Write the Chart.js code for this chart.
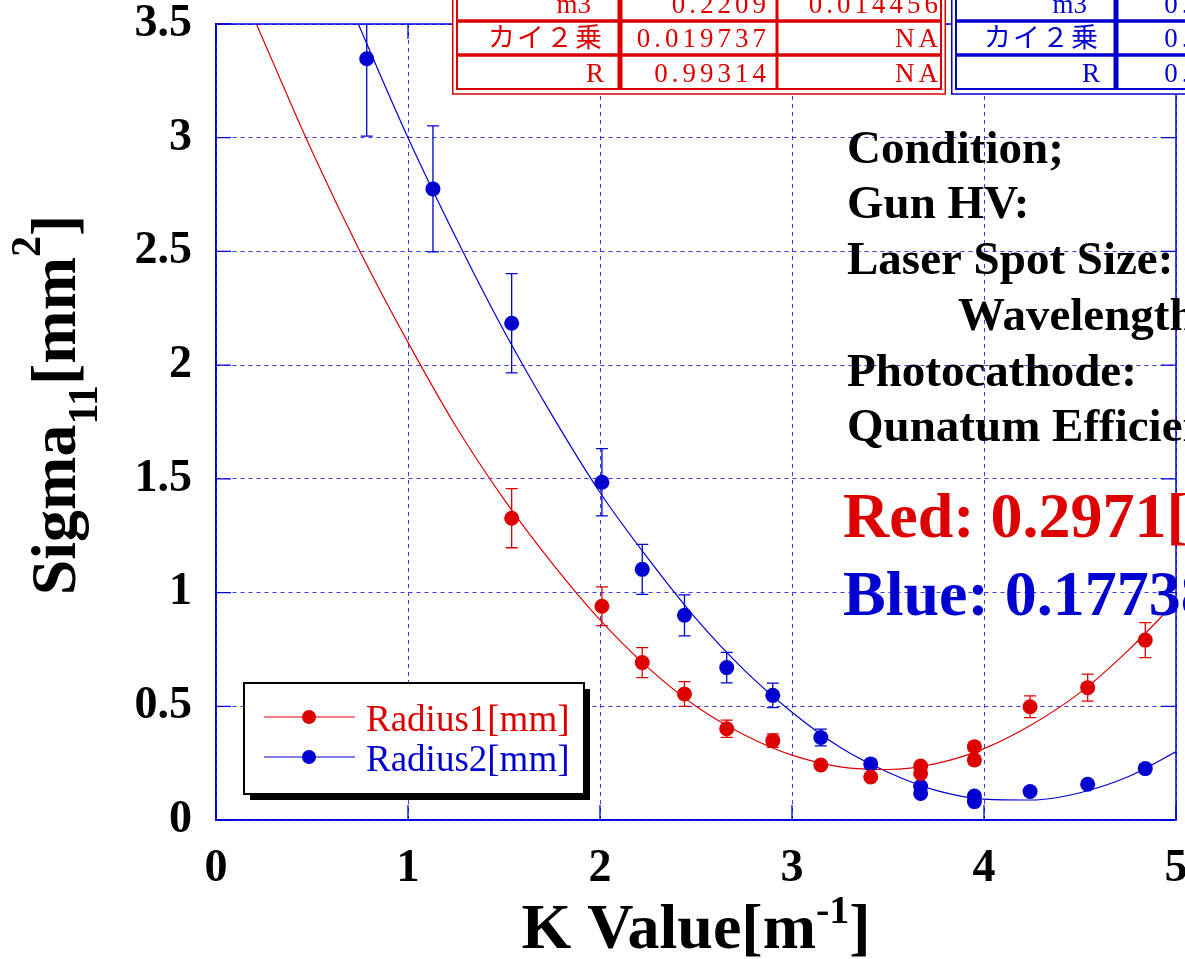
<!DOCTYPE html>
<html>
<head>
<meta charset="utf-8">
<script src="https://cdn.jsdelivr.net/npm/chart.js@4.4.1/dist/chart.umd.min.js"></script>
<style>
html, body { margin: 0; padding: 0; background: #fff; overflow: hidden; }
</style>
</head>
<body>
<canvas id="chart" width="1185" height="959"></canvas>
<script>
// measured points (K value, sigma11, error)
const kRed = [1.54, 2.01, 2.22, 2.44, 2.66, 2.90, 3.15, 3.41, 3.67, 3.67, 3.95, 3.95, 4.24, 4.54, 4.84];
const sigRed = [1.327, 0.940, 0.692, 0.554, 0.401, 0.349, 0.242, 0.189, 0.237, 0.205, 0.322, 0.264, 0.498, 0.582, 0.791];
const errRed = [0.13, 0.085, 0.066, 0.054, 0.038, 0.03, 0.015, 0.012, 0.015, 0.015, 0.02, 0.02, 0.048, 0.059, 0.077];

const kBlue = [0.785, 1.13, 1.54, 2.01, 2.22, 2.44, 2.66, 2.90, 3.15, 3.41, 3.67, 3.67, 3.95, 3.95, 4.24, 4.54, 4.84];
const sigBlue = [3.347, 2.775, 2.184, 1.485, 1.102, 0.900, 0.670, 0.548, 0.363, 0.246, 0.147, 0.117, 0.105, 0.081, 0.125, 0.157, 0.226];
const errBlue = [0.34, 0.277, 0.218, 0.148, 0.11, 0.09, 0.067, 0.054, 0.037, 0.02, 0.015, 0.015, 0.012, 0.012, 0.015, 0.015, 0.02];

// fitted curves
const fitKRed = [0.2, 0.5, 0.75, 1.0, 1.25, 1.5, 1.75, 2.0, 2.25, 2.5, 2.75, 3.0, 3.25, 3.5, 3.75, 4.0, 4.25, 4.5, 4.75, 5.0];
const fitRed = [3.52, 2.94, 2.50, 2.10, 1.73, 1.41, 1.13, 0.88, 0.67, 0.50, 0.375, 0.285, 0.234, 0.222, 0.248, 0.314, 0.42, 0.56, 0.745, 0.96];
const fitKBlue = [0.7, 1.0, 1.25, 1.5, 1.75, 2.0, 2.25, 2.5, 2.75, 3.0, 3.25, 3.5, 3.75, 4.0, 4.25, 4.5, 4.75, 5.0];
const fitBlue = [3.58, 3.00, 2.56, 2.15, 1.78, 1.44, 1.15, 0.885, 0.66, 0.474, 0.32, 0.21, 0.13, 0.092, 0.088, 0.12, 0.19, 0.30];

const seriesNames = ['Radius1[mm]', 'Radius2[mm]'];
const xTicks = [0, 1, 2, 3, 4, 5];
const yTicks = [0, 0.5, 1, 1.5, 2, 2.5, 3, 3.5];

// fit result tables
const tableLabels = ['m3', 'カイ２乗', 'R'];
const redTable = [['0.2209', '0.014456'], ['0.019737', 'NA'], ['0.99314', 'NA']];
const blueTable = [['0.08534', '0.01162'], ['0.02156', 'NA'], ['0.99127', 'NA']];

const conditionLines = ['Condition;', 'Gun HV:', 'Laser Spot Size:', 'Wavelength:', 'Photocathode:', 'Qunatum Efficiency:'];
const emittance = ['Red: 0.2971[mm mrad]', 'Blue: 0.17738[mm mrad]'];

const RED = '#dd0000';
const BLUE = '#0000d0';
const serif = "'Liberation Serif', 'Times New Roman', serif";

function pts(xs, ys) {
  return xs.map((x, i) => ({ x: x, y: ys[i] }));
}

function richText(ctx, parts, x, y, align) {
  let w = 0;
  parts.forEach(p => {
    ctx.font = 'bold ' + p[1] + 'px ' + serif;
    w += ctx.measureText(p[0]).width;
  });
  let cx = align === 'center' ? x - w / 2 : x;
  parts.forEach(p => {
    ctx.font = 'bold ' + p[1] + 'px ' + serif;
    ctx.fillText(p[0], cx, y + p[2]);
    cx += ctx.measureText(p[0]).width;
  });
}

const errorBars = {
  id: 'errorBars',
  beforeDatasetsDraw(chart) {
    const ctx = chart.ctx;
    const a = chart.chartArea;
    const xs = chart.scales.x, ys = chart.scales.y;
    ctx.save();
    ctx.beginPath();
    ctx.rect(a.left, a.top, a.right - a.left, a.bottom - a.top);
    ctx.clip();
    [[kRed, sigRed, errRed, RED], [kBlue, sigBlue, errBlue, BLUE]].forEach(s => {
      ctx.strokeStyle = s[3];
      ctx.lineWidth = 1.3;
      s[0].forEach((k, i) => {
        const px = xs.getPixelForValue(k);
        const top = ys.getPixelForValue(s[1][i] + s[2][i]);
        const bot = ys.getPixelForValue(s[1][i] - s[2][i]);
        ctx.beginPath();
        ctx.moveTo(px, top); ctx.lineTo(px, bot);
        ctx.moveTo(px - 6, top); ctx.lineTo(px + 6, top);
        ctx.moveTo(px - 6, bot); ctx.lineTo(px + 6, bot);
        ctx.stroke();
      });
    });
    ctx.restore();
  }
};

function drawTable(ctx, left, right, colX, valueRight, labelRight, rows, color) {
  ctx.save();
  ctx.fillStyle = '#fff';
  ctx.fillRect(left, -10, right - left, 105);
  ctx.strokeStyle = color;
  ctx.lineWidth = 1.5;
  ctx.strokeRect(left + 0.75, -10, right - left - 1.5, 104);
  ctx.lineWidth = 2;
  ctx.strokeRect(left + 5, -10, right - left - 10, 99);
  ctx.lineWidth = 3.5;
  ctx.beginPath();
  ctx.moveTo(left + 5, 21); ctx.lineTo(right - 5, 21);
  ctx.moveTo(left + 5, 55); ctx.lineTo(right - 5, 55);
  ctx.stroke();
  ctx.lineWidth = 5;
  ctx.beginPath();
  ctx.moveTo(colX[0], -10); ctx.lineTo(colX[0], 89);
  ctx.stroke();
  if (colX[1]) {
    ctx.lineWidth = 3;
    ctx.beginPath();
    ctx.moveTo(colX[1], -10); ctx.lineTo(colX[1], 89);
    ctx.stroke();
  }
  ctx.fillStyle = color;
  ctx.textAlign = 'right';
  ctx.textBaseline = 'alphabetic';
  const base = [13, 47, 82];
  ctx.font = '27px ' + serif + ", 'Noto Sans CJK JP'";
  tableLabels.forEach((t, i) => {
    ctx.letterSpacing = i === 1 ? '2px' : '0px';
    ctx.fillText(t, labelRight - (i === 0 ? 13 : 0), base[i]);
  });
  ctx.letterSpacing = '4px';
  ctx.font = '27px ' + serif;
  rows.forEach((r, i) => {
    ctx.fillText(r[0], valueRight[0], base[i]);
    ctx.fillText(r[1], valueRight[1], base[i]);
  });
  ctx.restore();
}

const decorations = {
  id: 'decorations',
  afterDraw(chart) {
    const ctx = chart.ctx;
    const a = chart.chartArea;
    const xs = chart.scales.x, ys = chart.scales.y;
    ctx.save();
    // frame and inner ticks
    ctx.strokeStyle = '#0000dd';
    ctx.lineWidth = 1.5;
    ctx.strokeRect(a.left, a.top, a.right - a.left, a.bottom - a.top);
    ctx.lineWidth = 1.3;
    ctx.beginPath();
    yTicks.forEach(v => {
      const py = ys.getPixelForValue(v);
      ctx.moveTo(a.left, py); ctx.lineTo(a.left + 15, py);
      ctx.moveTo(a.right, py); ctx.lineTo(a.right - 15, py);
    });
    xTicks.forEach(v => {
      const px = xs.getPixelForValue(v);
      ctx.moveTo(px, a.bottom); ctx.lineTo(px, a.bottom - 15);
      ctx.moveTo(px, a.top); ctx.lineTo(px, a.top + 15);
    });
    ctx.stroke();

    // axis titles
    ctx.fillStyle = '#000';
    ctx.textBaseline = 'alphabetic';
    ctx.textAlign = 'left';
    richText(ctx, [['K Value[m', 64, 0], ['-1', 40, -25], [']', 64, 0]], (a.left + a.right) / 2, 948, 'center');
    ctx.save();
    ctx.translate(75, 405);
    ctx.rotate(-Math.PI / 2);
    richText(ctx, [['Sigma', 64, 0], ['11', 42, 22], ['[mm', 64, 0], ['2', 42, -35], [']', 64, 0]], 0, 0, 'center');
    ctx.restore();

    // legend with drop shadow
    const lx = 244, ly = 683, lw = 340, lh = 111;
    ctx.fillStyle = '#000';
    ctx.fillRect(lx + 6, ly + 6, lw, lh);
    ctx.fillStyle = '#fff';
    ctx.fillRect(lx, ly, lw, lh);
    ctx.strokeStyle = '#000';
    ctx.lineWidth = 2;
    ctx.strokeRect(lx, ly, lw, lh);
    chart.data.datasets.slice(0, 2).forEach((ds, i) => {
      const y = 717 + i * 40;
      ctx.strokeStyle = ds.borderColor;
      ctx.lineWidth = 1.2;
      ctx.beginPath();
      ctx.moveTo(264, y); ctx.lineTo(355, y);
      ctx.stroke();
      ctx.fillStyle = ds.backgroundColor;
      ctx.beginPath();
      ctx.arc(309, y, 7, 0, Math.PI * 2);
      ctx.fill();
      ctx.font = '37px ' + serif;
      ctx.fillText(ds.label, 366, y + 14);
    });

    // fit tables
    drawTable(ctx, 452, 946, [620, 777], [770, 942], 604, redTable, RED);
    drawTable(ctx, 951, 1320, [1116, null], [1280, 1420], 1100, blueTable, BLUE);

    // condition text
    ctx.fillStyle = '#000';
    ctx.textAlign = 'left';
    ctx.font = 'bold 47px ' + serif;
    const base = [163, 218, 274, 330, 386, 441];
    conditionLines.forEach((t, i) => {
      ctx.fillText(t, i === 3 ? 958 : 847, base[i]);
    });
    ctx.font = 'bold 64px ' + serif;
    ctx.fillStyle = RED;
    ctx.fillText(emittance[0], 843, 537);
    ctx.fillStyle = BLUE;
    ctx.fillText(emittance[1], 843, 615);
    ctx.restore();
  }
};

function noPadX(s) {
  s.height = 139;
  s.paddingLeft = 0; s.paddingRight = 0;
}
function noPadY(s) {
  s.width = 216;
  s.paddingTop = 0; s.paddingBottom = 0;
}

const ctx = document.getElementById('chart').getContext('2d');
new Chart(ctx, {
  type: 'scatter',
  data: {
    datasets: [
      { label: seriesNames[0], data: pts(kRed, sigRed), backgroundColor: RED, borderColor: RED, pointRadius: 7.5, pointBorderWidth: 0, showLine: false },
      { label: seriesNames[1], data: pts(kBlue, sigBlue), backgroundColor: BLUE, borderColor: BLUE, pointRadius: 7.5, pointBorderWidth: 0, showLine: false },
      { label: 'fit1', data: pts(fitKRed, fitRed), borderColor: RED, borderWidth: 1.2, pointRadius: 0, showLine: true, cubicInterpolationMode: 'monotone', clip: 0 },
      { label: 'fit2', data: pts(fitKBlue, fitBlue), borderColor: BLUE, borderWidth: 1.2, pointRadius: 0, showLine: true, cubicInterpolationMode: 'monotone', clip: 0 }
    ]
  },
  options: {
    responsive: false,
    animation: false,
    layout: { padding: { top: 24, right: 9, left: 0, bottom: 0 } },
    plugins: { legend: { display: false }, tooltip: { enabled: false } },
    scales: {
      x: {
        type: 'linear', min: 0, max: 5,
        afterFit: noPadX,
        afterBuildTicks(s) { s.ticks = xTicks.map(v => ({ value: v })); },
        ticks: { color: '#000', padding: 22, callback: v => String(v), font: { family: serif, size: 46, weight: 'bold' } },
        grid: { color: '#3a3af0', lineWidth: 1, drawTicks: false },
        border: { display: true, color: '#0000dd', width: 1.5, dash: [4, 4] }
      },
      y: {
        type: 'linear', min: 0, max: 3.5,
        afterFit: noPadY,
        afterBuildTicks(s) { s.ticks = yTicks.map(v => ({ value: v })); },
        ticks: { color: '#000', padding: 24, callback: v => String(v), font: { family: serif, size: 46, weight: 'bold' } },
        grid: { color: '#3a3af0', lineWidth: 1, drawTicks: false },
        border: { display: true, color: '#0000dd', width: 1.5, dash: [4, 4] }
      }
    }
  },
  plugins: [errorBars, decorations]
});
</script>
</body>
</html>
